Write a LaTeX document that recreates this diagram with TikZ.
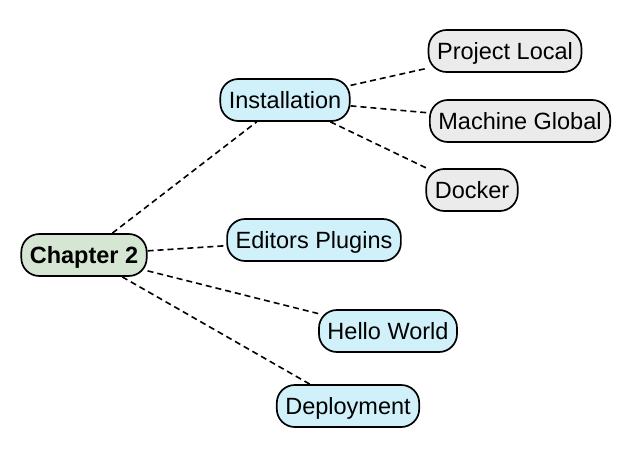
\documentclass[tikz,border=0pt]{standalone}
\usepackage{fontspec}
\setmainfont{Liberation Sans}
\definecolor{chgreen}{HTML}{D5E7D3}
\definecolor{topcyan}{HTML}{D0F1FA}
\definecolor{subgrey}{HTML}{EBEBEB}
\tikzset{
  x=1pt, y=-1pt,
  box/.style={draw=black, line width=1.7pt, rounded corners=18pt, minimum height=42pt,
    inner xsep=8.5pt, inner ysep=0pt, font=\fontsize{23.5}{28}\selectfont, text depth=0pt, text height=16.8pt},
  main/.style={box, fill=chgreen, font=\fontsize{23.5}{28}\selectfont\bfseries},
  topic/.style={box, fill=topcyan},
  sub/.style={box, fill=subgrey},
  link/.style={draw=black, line width=1.6pt, dash pattern=on 6pt off 4pt},
}
\begin{document}
\begin{tikzpicture}
\useasboundingbox (0,0) rectangle (636,462);
\node[main]  (ch)  at (84,255)  {Chapter 2};
\node[topic] (ins) at (285,100) {Installation};
\node[topic] (ed)  at (314,240) {Editors Plugins};
\node[topic] (hw)  at (388,331) {Hello World};
\node[topic] (dep) at (348,406) {Deployment};
\node[sub]   (pl)  at (505,51)  {Project Local};
\node[sub]   (mg)  at (520,121) {Machine Global};
\node[sub]   (dk)  at (472,190) {Docker};
\draw[link] (ch) -- (ins);
\draw[link] (ch) -- (ed);
\draw[link] (ch) -- (hw);
\draw[link] (ch) -- (dep);
\draw[link] (ins) -- (pl);
\draw[link] (ins) -- (mg);
\draw[link] (ins) -- (dk);
\end{tikzpicture}
\end{document}
